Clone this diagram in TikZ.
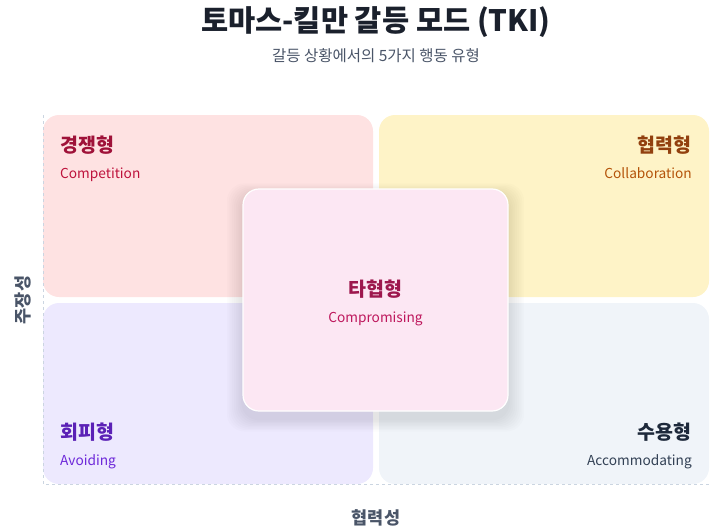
\documentclass[tikz,border=0pt]{standalone}
\usepackage{fontspec}
\setmainfont{Noto Sans CJK KR}
\usepackage{xcolor}

\begin{document}
\begin{tikzpicture}[x=1pt,y=-1pt,
  quad/.style={rounded corners=16pt,minimum width=330pt,inner sep=0pt},
  kname/.style={font=\fontsize{19.5}{22}\selectfont\bfseries,inner sep=0pt},
  ename/.style={font=\fontsize{13.7}{16}\selectfont,inner sep=0pt},
  axisname/.style={font=\fontsize{17.5}{20}\selectfont\bfseries,text=axistext,inner sep=0pt}]
\definecolor{ink}{HTML}{1A202C}
\definecolor{subink}{HTML}{4A5568}
\definecolor{axistext}{HTML}{4A5568}
\definecolor{axisline}{HTML}{CBD5E1}
\definecolor{redfill}{HTML}{FEE2E2}
\definecolor{redhead}{HTML}{9F1239}
\definecolor{redsub}{HTML}{BE123C}
\definecolor{amberfill}{HTML}{FEF3C7}
\definecolor{amberhead}{HTML}{92400E}
\definecolor{ambersub}{HTML}{B45309}
\definecolor{violetfill}{HTML}{EDE9FE}
\definecolor{violethead}{HTML}{5B21B6}
\definecolor{violetsub}{HTML}{6D28D9}
\definecolor{slatefill}{HTML}{F0F4F9}
\definecolor{slatehead}{HTML}{1E293B}
\definecolor{slatesub}{HTML}{334155}
\definecolor{pinkfill}{HTML}{FCE7F3}
\definecolor{pinkhead}{HTML}{9D174D}
\definecolor{pinksub}{HTML}{BE185D}
\useasboundingbox (0,0) rectangle (728,530);
\node[font=\fontsize{29.5}{32}\selectfont\bfseries,text=ink,anchor=base,inner sep=0pt] (title) at (376,31) {토마스-킬만 갈등 모드 (TKI)};
\node[font=\fontsize{15.5}{18}\selectfont,text=subink,anchor=base,inner sep=0pt] (subtitle) at (376,61.5) {갈등 상황에서의 5가지 행동 유형};
% four quadrants
\foreach \nm/\cx/\cy/\ht/\crlr in {competing/208/206/182/redfill,collaborating/544/206/182/amberfill,avoiding/208/393.5/181/violetfill,accommodating/544/393.5/181/slatefill}
{ \node[quad,minimum height=\ht pt,fill=\crlr] (\nm) at (\cx,\cy) {};}
% axes
\coordinate (origin) at (43,484);
\coordinate (ytop) at (43,115);
\coordinate (xend) at (709,484);
\draw[axisline,dashed,line width=0.8pt] (ytop) -- (origin) -- (xend);
\node[axisname,rotate=90] (assert) at (22.5,300) {주장성};
\node[axisname] (coop) at (376,518) {협력성};
% labels
\node[kname,text=redhead,anchor=base west] (comphead) at (60,152) {경쟁형};
\node[ename,text=redsub,anchor=base west] (compsub) at (60,178) {Competition};
\node[kname,text=amberhead,anchor=base east] (collhead) at (692,152) {협력형};
\node[ename,text=ambersub,anchor=base east] (collsub) at (692,178) {Collaboration};
\node[kname,text=violethead,anchor=base west] (avoidhead) at (60,439) {회피형};
\node[ename,text=violetsub,anchor=base west] (avoidsub) at (60,465) {Avoiding};
\node[kname,text=slatehead,anchor=base east] (accohead) at (692,439) {수용형};
\node[ename,text=slatesub,anchor=base east] (accosub) at (692,465) {Accommodating};
% centre card with soft shadow
\foreach \s in {1,...,9}
{ \fill[black,opacity=0.011,rounded corners=18pt] (243-\s*1.8,189+6-\s*1.3) rectangle (508+\s*1.8,411+8+\s*1.4);}
\node[rounded corners=16pt,minimum width=265pt,minimum height=222pt,fill=pinkfill,draw=white,line width=1.2pt,inner sep=0pt] (compromising) at (375.5,300) {};
\node[kname,text=pinkhead,anchor=base] (comprhead) at (375.5,296) {타협형};
\node[ename,text=pinksub,anchor=base] (comprsub) at (375.5,322) {Compromising};
\end{tikzpicture}
\end{document}
